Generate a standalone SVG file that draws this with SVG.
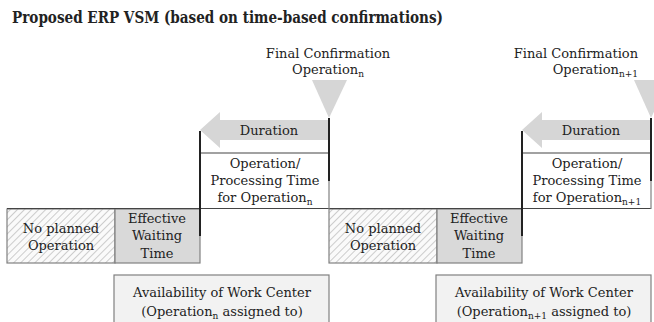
<svg xmlns="http://www.w3.org/2000/svg" width="654" height="322" viewBox="0 0 654 322">
  <style>
    text { font-family: "DejaVu Serif", "Liberation Serif", serif; fill: #222; }
    .title { font-size: 16px; font-weight: bold; }
    .lbl { font-size: 13px; text-anchor: middle; }
    .box { stroke: #808080; stroke-width: 1.2; }
    .bar { stroke: #222; stroke-width: 2; }
    .thin { stroke: #444; stroke-width: 1.2; fill: none; }
    .gray { fill: #d6d6d6; }
    .sub { font-size: 9px; }
  </style>
  <defs>
    <pattern id="hatch" patternUnits="userSpaceOnUse" width="5" height="5" patternTransform="rotate(45)">
      <rect width="5" height="5" fill="#fafafa"/>
      <line x1="0" y1="0" x2="0" y2="5" stroke="#b8b8b8" stroke-width="1.4"/>
    </pattern>
    <!-- one operation cycle, placed twice along the time axis -->
    <g id="cycle-base">
      <rect class="box" x="7" y="209" width="108" height="54" fill="url(#hatch)"/>
      <rect class="box" x="115" y="209" width="85" height="54" fill="#d9d9d9"/>
      <rect class="box" x="114" y="275" width="215" height="50" fill="#f2f2f2"/>
      <path class="gray" d="M329,120 L220,120 L220,112 L200,130 L220,148 L220,140 L329,140 Z"/>
      <path class="gray" d="M312,80 L347,80 L329,118 Z"/>
    </g>
  </defs>

  <text class="title" x="12" y="23" textLength="431" lengthAdjust="spacingAndGlyphs">Proposed ERP VSM (based on time-based confirmations)</text>

  <g id="cycle-n">
    <use href="#cycle-base"/>
  </g>
  <g id="cycle-n1">
    <use href="#cycle-base" x="322"/>
  </g>

  <g id="connectors">
    <line class="thin" x1="7" y1="208.5" x2="651" y2="208.5"/>
    <line class="thin" x1="200" y1="153" x2="329" y2="153"/>
    <line class="thin" x1="522" y1="153" x2="651" y2="153"/>
    <line class="box" x1="329" y1="170" x2="329" y2="209"/>
    <line class="box" x1="651" y1="170" x2="651" y2="209"/>
    <line class="bar" x1="200" y1="131" x2="200" y2="236"/>
    <line class="bar" x1="329" y1="118" x2="329" y2="181"/>
    <line class="bar" x1="522" y1="131" x2="522" y2="236"/>
    <line class="bar" x1="651" y1="118" x2="651" y2="181"/>
  </g>

  <g id="labels-n">
    <text class="lbl" x="328" y="58">Final Confirmation</text>
    <text class="lbl" x="328" y="74">Operation<tspan class="sub" dy="3">n</tspan></text>
    <text class="lbl" x="269" y="135">Duration</text>
    <text class="lbl" x="265" y="168">Operation/</text>
    <text class="lbl" x="265" y="185">Processing Time</text>
    <text class="lbl" x="265" y="202">for Operation<tspan class="sub" dy="3">n</tspan></text>
    <text class="lbl" x="61" y="233">No planned</text>
    <text class="lbl" x="61" y="250">Operation</text>
    <text class="lbl" x="157" y="223">Effective</text>
    <text class="lbl" x="157" y="240">Waiting</text>
    <text class="lbl" x="157" y="258">Time</text>
    <text class="lbl" x="222" y="297">Availability of Work Center</text>
    <text class="lbl" x="222" y="316">(Operation<tspan class="sub" dy="3">n</tspan><tspan dy="-3"> assigned to)</tspan></text>
  </g>

  <g id="labels-n1">
    <text class="lbl" x="638" y="58" style="text-anchor:end">Final Confirmation</text>
    <text class="lbl" x="638" y="74" style="text-anchor:end">Operation<tspan class="sub" dy="3">n+1</tspan></text>
    <text class="lbl" x="591" y="135">Duration</text>
    <text class="lbl" x="587" y="168">Operation/</text>
    <text class="lbl" x="587" y="185">Processing Time</text>
    <text class="lbl" x="587" y="202">for Operation<tspan class="sub" dy="3">n+1</tspan></text>
    <text class="lbl" x="383" y="233">No planned</text>
    <text class="lbl" x="383" y="250">Operation</text>
    <text class="lbl" x="479" y="223">Effective</text>
    <text class="lbl" x="479" y="240">Waiting</text>
    <text class="lbl" x="479" y="258">Time</text>
    <text class="lbl" x="544" y="297">Availability of Work Center</text>
    <text class="lbl" x="544" y="316">(Operation<tspan class="sub" dy="3">n+1</tspan><tspan dy="-3"> assigned to)</tspan></text>
  </g>
</svg>
